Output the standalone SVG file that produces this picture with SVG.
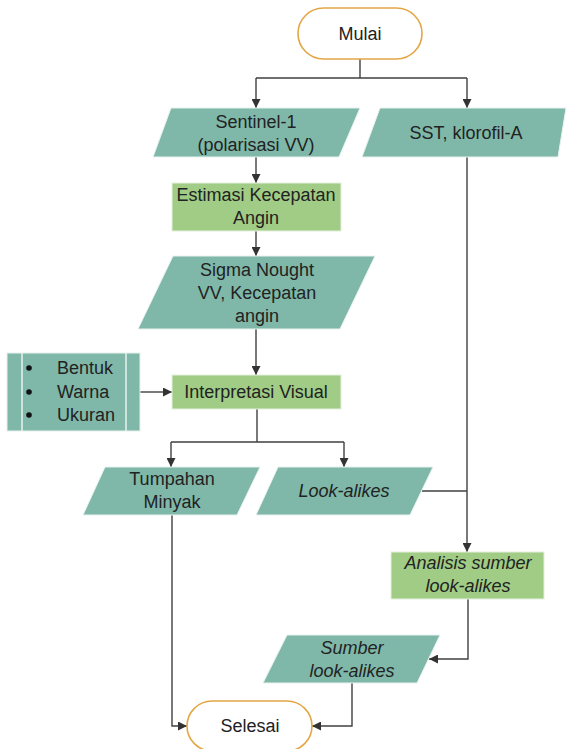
<svg xmlns="http://www.w3.org/2000/svg" width="566" height="749" viewBox="0 0 566 749">
<defs>
<style>
text{font-family:"Liberation Sans",Arial,sans-serif;font-size:18px;fill:#222;text-anchor:middle}
.it{font-style:italic}
.io{fill:#7FB8A9;stroke:#E8F2EE;stroke-width:1}
.proc{fill:#A0CC85;stroke:#E6F0DD;stroke-width:1}
.term{fill:#fff;stroke:#E4A645;stroke-width:1.6}
.con{fill:none;stroke:#404040;stroke-width:1.4}
</style>
<marker id="ah" viewBox="0 0 10 10" refX="10" refY="5" markerWidth="9" markerHeight="9" markerUnits="userSpaceOnUse" orient="auto">
<path d="M0,0 L10,5 L0,10 z" fill="#333"/>
</marker>
</defs>
<rect width="566" height="749" fill="#fff"/>
<g id="connectors">
<path class="con" d="M360,59 V78 M256,78 H467"/>
<path class="con" d="M256,78 V108" marker-end="url(#ah)"/>
<path class="con" d="M467,78 V108" marker-end="url(#ah)"/>
<path class="con" d="M256,157 V183" marker-end="url(#ah)"/>
<path class="con" d="M256,231 V256" marker-end="url(#ah)"/>
<path class="con" d="M256,329 V375" marker-end="url(#ah)"/>
<path class="con" d="M140,392 H172" marker-end="url(#ah)"/>
<path class="con" d="M257,409 V442 M171,442 H344"/>
<path class="con" d="M171,442 V467" marker-end="url(#ah)"/>
<path class="con" d="M344,442 V467" marker-end="url(#ah)"/>
<path class="con" d="M467,157 V552" marker-end="url(#ah)"/>
<path class="con" d="M422,491 H467"/>
<path class="con" d="M468,599 V659 H429" marker-end="url(#ah)"/>
<path class="con" d="M172,515 V726 H187" marker-end="url(#ah)"/>
<path class="con" d="M352,683 V726 H312" marker-end="url(#ah)"/>
</g>
<g id="mulai">
<rect class="term" x="298" y="8" width="124" height="51" rx="25.5"/>
<text x="360" y="40">Mulai</text>
</g>
<g id="sentinel">
<polygon class="io" points="171,108 360,108 339,157 153,157"/>
<text x="256" y="128">Sentinel-1</text>
<text x="256" y="151">(polarisasi VV)</text>
</g>
<g id="sst">
<polygon class="io" points="380,108 566,108 558,157 362,157"/>
<text x="466" y="139">SST, klorofil-A</text>
</g>
<g id="estimasi">
<rect class="proc" x="172" y="183" width="169" height="48"/>
<text x="256" y="201">Estimasi Kecepatan</text>
<text x="256" y="224">Angin</text>
</g>
<g id="sigma">
<polygon class="io" points="173,256 375,256 340,329 138,329"/>
<text x="257" y="276">Sigma Nought</text>
<text x="257" y="299">VV, Kecepatan</text>
<text x="257" y="322">angin</text>
</g>
<g id="kriteria">
<rect class="io" x="7" y="353" width="133" height="78"/>
<line x1="22" y1="353" x2="22" y2="431" stroke="#E8F2EE" stroke-width="1.5"/>
<line x1="126" y1="353" x2="126" y2="431" stroke="#E8F2EE" stroke-width="1.5"/>
<circle cx="29" cy="368" r="2.8" fill="#111"/>
<circle cx="29" cy="392" r="2.8" fill="#111"/>
<circle cx="29" cy="415" r="2.8" fill="#111"/>
<text x="57" y="374" style="text-anchor:start">Bentuk</text>
<text x="57" y="398" style="text-anchor:start">Warna</text>
<text x="57" y="421" style="text-anchor:start">Ukuran</text>
</g>
<g id="interpretasi">
<rect class="proc" x="172" y="375" width="169" height="34"/>
<text x="256" y="398">Interpretasi Visual</text>
</g>
<g id="tumpahan">
<polygon class="io" points="105,467 260,467 237,515 83,515"/>
<text x="172" y="485">Tumpahan</text>
<text x="172" y="508">Minyak</text>
</g>
<g id="lookalikes">
<polygon class="io" points="278,467 433,467 410,515 256,515"/>
<text class="it" x="344" y="497">Look-alikes</text>
</g>
<g id="analisis">
<rect class="proc" x="391" y="552" width="153" height="47"/>
<text class="it" x="468" y="569">Analisis sumber</text>
<text class="it" x="468" y="592">look-alikes</text>
</g>
<g id="sumber">
<polygon class="io" points="287,635 440,635 417,683 263,683"/>
<text class="it" x="352" y="654">Sumber</text>
<text class="it" x="352" y="677">look-alikes</text>
</g>
<g id="selesai">
<rect class="term" x="187" y="701" width="125" height="50" rx="25"/>
<text x="250" y="732">Selesai</text>
</g>
</svg>
